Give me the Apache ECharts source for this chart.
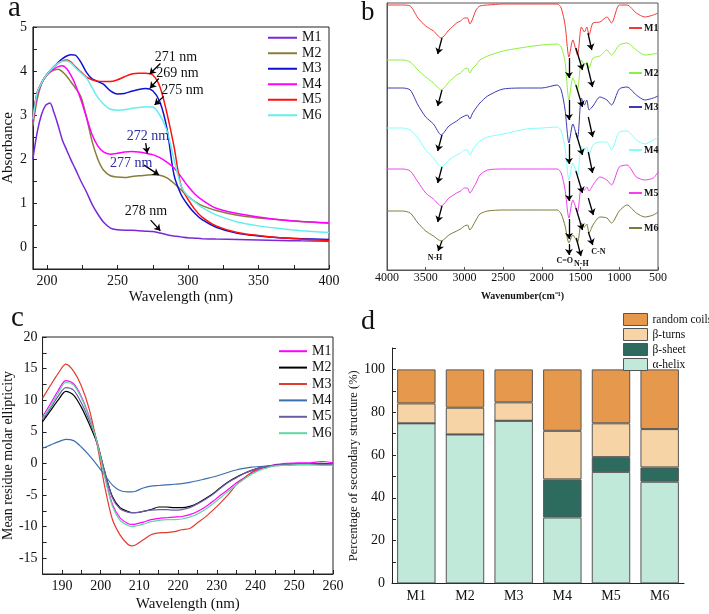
<!DOCTYPE html>
<html><head><meta charset="utf-8">
<script src="https://cdn.jsdelivr.net/npm/echarts@6/dist/echarts.min.js"></script>
<style>html,body{margin:0;padding:0;background:#fff}#c{width:709px;height:614px}</style>
</head><body><div id="c"></div><script>
const SERIF = 'Liberation Serif, "Times New Roman", serif';

// ---------- Panel a: UV absorbance ----------
const A_WL = [190,193,196,199,202,205,208,211,214,217,220,224,228,232,236,240,245,250,255,260,265,270,275,280,285,290,295,300,305,310,320,335,350,365,380,400];
const A_M1 = [2.0,2.6,3.0,3.22,3.27,3.05,2.75,2.42,2.2,1.98,1.78,1.5,1.25,0.97,0.75,0.57,0.43,0.39,0.38,0.38,0.37,0.36,0.35,0.32,0.28,0.25,0.23,0.21,0.2,0.19,0.18,0.17,0.16,0.15,0.14,0.13];
const A_M2 = [2.75,3.35,3.7,3.87,3.97,4.02,4.04,3.98,3.88,3.75,3.62,3.42,2.95,2.4,2.0,1.75,1.62,1.59,1.58,1.6,1.62,1.63,1.64,1.63,1.57,1.45,1.3,1.15,1.03,0.94,0.83,0.72,0.66,0.62,0.58,0.54];
const A_M3 = [2.9,3.5,3.72,3.88,4.0,4.1,4.2,4.28,4.34,4.37,4.36,4.2,3.97,3.82,3.76,3.7,3.55,3.48,3.49,3.54,3.58,3.6,3.55,3.3,2.7,1.65,1.2,0.95,0.76,0.62,0.45,0.31,0.25,0.21,0.19,0.17];
const A_M4 = [2.85,3.45,3.72,3.88,3.98,4.05,4.1,4.12,4.05,3.9,3.7,3.35,2.95,2.55,2.3,2.16,2.11,2.13,2.16,2.17,2.16,2.13,2.1,2.03,1.93,1.8,1.6,1.38,1.2,1.07,0.88,0.76,0.68,0.62,0.58,0.55];
const A_M5 = [2.9,3.5,3.72,3.88,4.0,4.1,4.18,4.23,4.25,4.2,4.1,3.98,3.86,3.8,3.77,3.76,3.76,3.8,3.87,3.93,3.95,3.95,3.91,3.65,3.05,2.3,1.4,1.08,0.85,0.68,0.48,0.33,0.26,0.21,0.18,0.15];
const A_M6 = [2.9,3.5,3.72,3.88,4.0,4.1,4.18,4.22,4.23,4.18,4.08,3.96,3.84,3.62,3.4,3.25,3.13,3.11,3.12,3.15,3.17,3.19,3.18,3.0,2.65,2.0,1.4,1.15,1.02,0.9,0.73,0.57,0.48,0.42,0.37,0.33];
const A_X_LABELS = [200,250,300,350,400];
const A_X_TICKS = [200,225,250,275,300,325,350,375,400];
const A_Y_LABELS = [0,1,2,3,4,5];
const A_Y_TICKS = [0,0.5,1,1.5,2,2.5,3,3.5,4,4.5,5];
const A_ARROWS = [[[280.4,4.17],[272.8,3.93]],[[279.3,3.83],[273,3.61]],[[282.7,3.42],[276.3,3.23]],[[270,2.36],[271.1,2.13]],[[268.8,1.86],[279.3,1.64]],[[273.5,0.61],[280.4,0.37]]];
const A_NOTES = [['271 nm',291.4,4.3,'#111'],['269 nm',292.5,3.95,'#111'],['275 nm',296,3.57,'#111'],['272 nm',271.6,2.52,'#2b2ba0'],['277 nm',259.7,1.91,'#2b2ba0'],['278 nm',270.2,0.8,'#111']];

// ---------- Panel b: FTIR ----------
const B_WN = [4000,3800,3700,3600,3500,3400,3300,3200,3100,3050,3000,2960,2930,2900,2850,2800,2700,2500,2200,2000,1800,1750,1700,1650,1600,1540,1490,1450,1420,1390,1340,1250,1160,1100,1000,900,780,670,560,500];
const B_M1 = [265,265,264,252,244,239,232,240,247,249,252,252,246,250,260,264,265,266,266,266,266,262,245,213,230,215,243,238,243,235,247,248,253,247,265,265,257,253,255,257];
const B_M2 = [210,210,208,200,193,187,180,188,195,197,201,202,197,201,205,210,214,219,223,225,226,223,208,170,192,180,210,205,208,202,212,214,220,215,225,227,220,215,216,217];
const B_M3 = [182,182,180,165,153,146,135,144,149,152,154,155,151,156,162,167,174,181,182,182,185,180,160,127,146,132,172,165,170,160,164,173,170,165,181,183,175,170,172,174];
const B_M4 = [142,142,140,132,120,112,103,110,115,117,120,120,115,119,125,129,133,136,141,142,143,139,122,90,107,95,124,119,123,115,125,128,128,120,138,139,130,126,130,133];
const B_M5 = [101,101,99,88,77,71,64,72,77,79,82,82,77,80,87,95,100,101,101,101,101,97,80,52,70,58,83,80,83,79,85,93,90,85,103,105,93,90,92,98];
const B_M6 = [59,59,57,47,39,34,29,35,39,41,44,45,40,43,50,56,59,60,60,60,60,56,44,27,35,28,47,43,46,37,45,53,52,47,59,65,57,53,55,58];
const B_ARROWS = [
  [[3290,232],[3345,216]],[[3290,180],[3345,164]],[[3290,135],[3345,119]],[[3290,103],[3345,87]],[[3290,64],[3345,48]],[[3290,29],[3340,19]],
  [[1650,212],[1650,192]],[[1650,170],[1650,150]],[[1650,126],[1650,106]],[[1650,89],[1650,69]],[[1650,51],[1650,31]],[[1650,26],[1650,15]],
  [[1560,222],[1475,200]],[[1560,185],[1475,163]],[[1560,137],[1475,115]],[[1560,99],[1475,77]],[[1560,62],[1475,40]],[[1555,32],[1495,14]],
  [[1405,237],[1355,220]],[[1420,207],[1345,183]],[[1400,153],[1343,133]],[[1400,118],[1345,97]],[[1400,72],[1335,55]],[[1400,38],[1343,25]]
];
const B_NOTES = [['N-H',3380,12],['C=O',1705,9],['N-H',1490,6],['C-N',1271,18]];
const B_LEGEND_TOPS = [23,68,102,145,188,223];

// ---------- Panel c: CD ----------
const C_WL = [185,187,189,191,193,195,197,199,201,203,205,207,208,209,211,213,215,217,219,221,223,225,227,229,231,233,235,237,239,241,243,245,248,251,254,257,260];
const C_M1 = [7.4,9.4,11.5,13.1,12.6,10.6,7.5,3.6,-1.8,-6.4,-8.6,-9.5,-9.65,-9.6,-9.3,-8.9,-8.7,-8.6,-8.5,-8.4,-8.1,-7.6,-6.9,-6.0,-5.0,-4.1,-3.1,-2.3,-1.5,-0.9,-0.5,-0.2,0,0.1,0.1,0.3,0.1];
const C_M2 = [6.6,8.3,10.0,11.4,10.8,8.9,6.3,3.3,-1.2,-5.2,-7.0,-7.6,-7.8,-7.8,-7.6,-7.3,-6.9,-6.9,-7.0,-7.0,-6.8,-6.3,-5.6,-4.8,-3.8,-2.9,-2.2,-1.6,-1.1,-0.7,-0.5,-0.3,-0.2,-0.1,-0.1,0,-0.1];
const C_M3 = [10.3,12.3,14.2,15.7,14.6,12.3,8.7,3.3,-3.5,-8.8,-11.3,-12.8,-13.05,-12.9,-12.1,-11.3,-11.0,-10.95,-10.8,-10.5,-10.3,-9.4,-8.5,-7.4,-6.2,-4.9,-3.4,-2.4,-1.4,-0.8,-0.5,-0.35,-0.3,-0.2,-0.2,-0.2,-0.3];
const C_M4 = [2.4,2.9,3.4,3.8,3.6,2.6,1.3,-0.2,-1.8,-3.4,-4.3,-4.5,-4.5,-4.4,-3.9,-3.6,-3.5,-3.4,-3.3,-3.2,-3.0,-2.75,-2.45,-2.15,-1.8,-1.4,-1.05,-0.8,-0.6,-0.5,-0.4,-0.3,-0.2,-0.1,-0.1,-0.1,-0.1];
const C_M5 = [6.9,8.7,10.6,12.0,11.6,9.6,6.9,3.6,-1.2,-5.4,-7.2,-7.7,-7.8,-7.8,-7.6,-7.4,-7.3,-7.3,-7.4,-7.3,-7.0,-6.4,-5.7,-4.9,-3.9,-3.0,-2.3,-1.6,-1.1,-0.7,-0.5,-0.3,-0.2,-0.1,-0.1,-0.1,-0.2];
const C_M6 = [7.1,9.0,11.1,12.8,12.4,10.4,7.4,3.5,-2.0,-6.7,-9.0,-9.8,-10.0,-9.9,-9.6,-9.2,-9.0,-8.9,-8.9,-8.8,-8.5,-8.0,-7.3,-6.4,-5.4,-4.4,-3.4,-2.5,-1.7,-1.1,-0.7,-0.4,-0.3,-0.2,-0.2,-0.3,-0.3];
const C_X_LABELS = [190,200,210,220,230,240,250,260];
const C_X_TICKS = [190,195,200,205,210,215,220,225,230,235,240,245,250,255,260];
const C_Y_LABELS = [-15,-10,-5,0,5,10,15,20];
const C_Y_TICKS = [-15,-12.5,-10,-7.5,-5,-2.5,0,2.5,5,7.5,10,12.5,15,17.5,20];

// ---------- Panel d: secondary structure ----------
const D_CATS = ['M1','M2','M3','M4','M5','M6'];
const D_HELIX = [74.8,69.6,76.0,30.8,52.1,47.5];
const D_SHEET = [0,0,0,17.8,6.9,6.7];
const D_TURNS = [9.3,12.5,8.6,22.7,15.8,17.9];
const D_COILS = [15.9,17.9,15.4,28.7,25.2,27.9];
const D_Y_LABELS = [0,20,40,60,80,100];
const D_Y_TICKS = [0,10,20,30,40,50,60,70,80,90,100,110];

const NAMES = ['M1','M2','M3','M4','M5','M6'];
const A_COLORS = ['#7a28d8','#8a7d3a','#1010d0','#ff00ff','#ff1010','#66eeee'];
const B_COLORS = ['#f03a3a','#8cf040','#3a3ab4','#80ffff','#f040f0','#7d7a3a'];
const C_COLORS = ['#ff00ff','#000000','#e03c31','#3d6fae','#6b5ca5','#61d6a0'];
const D_COLORS = {helix:'#c0e9da', sheet:'#2e6b5f', turns:'#f7d4a6', coils:'#e6994c'};

const zip = (xs, ys) => xs.map((x, i) => [x, ys[i]]);
const strip = n => n.slice(2);
const AX = '#222';

const A_SER = [A_M1,A_M2,A_M3,A_M4,A_M5,A_M6];
const B_SER = [B_M1,B_M2,B_M3,B_M4,B_M5,B_M6];
const C_SER = [C_M1,C_M2,C_M3,C_M4,C_M5,C_M6];

const series = [];
A_SER.forEach((d, i) => {
  const s = {type:'line', name:'a-'+NAMES[i], xAxisIndex:0, yAxisIndex:0, data:zip(A_WL,d), smooth:0.3,
    symbol:'none', lineStyle:{width:1.5, color:A_COLORS[i]}, itemStyle:{color:A_COLORS[i]}, z: 2};
  if (i === 0) {
    s.markLine = {silent:true, animation:false, symbol:['none','arrow'], symbolSize:6,
      lineStyle:{color:'#000', type:'solid', width:1.3}, label:{show:false},
      data: A_ARROWS.map(a => [{coord:a[0]},{coord:a[1]}])};
    s.markPoint = {silent:true, animation:false, symbol:'rect', symbolSize:1, itemStyle:{color:'rgba(0,0,0,0)'},
      data: A_NOTES.map(n => ({name:n[0], coord:[n[1],n[2]], label:{color:n[3]}})),
      label:{show:true, position:'inside', formatter:'{b}', fontSize:14, fontFamily:SERIF}};
  }
  series.push(s);
});
B_SER.forEach((d, i) => {
  const s = {type:'line', name:'b-'+NAMES[i], xAxisIndex:1, yAxisIndex:1, data:zip(B_WN,d), smooth:0.25,
    symbol:'none', lineStyle:{width:1, color:B_COLORS[i]}, itemStyle:{color:B_COLORS[i]}};
  if (i === 0) {
    s.markLine = {silent:true, animation:false, symbol:['none','arrow'], symbolSize:6,
      lineStyle:{color:'#000', type:'solid', width:1.3}, label:{show:false},
      data: B_ARROWS.map(a => [{coord:a[0]},{coord:a[1]}])};
    s.markPoint = {silent:true, animation:false, symbol:'rect', symbolSize:1, itemStyle:{color:'rgba(0,0,0,0)'},
      data: B_NOTES.map(n => ({name:n[0], coord:[n[1],n[2]]})),
      label:{show:true, position:'inside', formatter:'{b}', fontSize:8, fontWeight:'bold', color:'#111', fontFamily:SERIF}};
  }
  series.push(s);
});
C_SER.forEach((d, i) => {
  series.push({type:'line', name:'c-'+NAMES[i], xAxisIndex:2, yAxisIndex:2, data:zip(C_WL,d), smooth:0.3,
    symbol:'none', lineStyle:{width:1.2, color:C_COLORS[i]}, itemStyle:{color:C_COLORS[i]}});
});
const barBase = {type:'bar', stack:'tot', xAxisIndex:3, yAxisIndex:3, barWidth:'79%'};
series.push(Object.assign({}, barBase, {name:'α-helix', data:D_HELIX, itemStyle:{color:D_COLORS.helix, borderColor:'#555', borderWidth:1}}));
series.push(Object.assign({}, barBase, {name:'β-sheet', data:D_SHEET, itemStyle:{color:D_COLORS.sheet, borderColor:'#555', borderWidth:1}}));
series.push(Object.assign({}, barBase, {name:'β-turns', data:D_TURNS, itemStyle:{color:D_COLORS.turns, borderColor:'#555', borderWidth:1}}));
series.push(Object.assign({}, barBase, {name:'random coils', data:D_COILS, itemStyle:{color:D_COLORS.coils, borderColor:'#555', borderWidth:1}}));

const legends = [
  {data:NAMES.map(n=>'a-'+n), orient:'vertical', left:268, top:30, padding:0, icon:'rect', itemWidth:29, itemHeight:2, itemGap:0,
   formatter:strip, selectedMode:false, textStyle:{fontSize:14, lineHeight:15.5, fontFamily:SERIF, color:'#111'}},
  {data:NAMES.map(n=>'c-'+n), orient:'vertical', left:279, top:343, padding:0, icon:'rect', itemWidth:28, itemHeight:2, itemGap:0,
   formatter:strip, selectedMode:false, textStyle:{fontSize:14, lineHeight:16.4, fontFamily:SERIF, color:'#111'}},
  {data:['random coils','β-turns','β-sheet','α-helix'], orient:'vertical', left:623, top:313, padding:0, itemWidth:24, itemHeight:12, itemGap:2,
   icon:'rect', itemStyle:{borderColor:'#555', borderWidth:1}, selectedMode:false,
   textStyle:{fontSize:11.5, fontFamily:SERIF, color:'#111'}}
];
NAMES.forEach((n, i) => legends.push({data:['b-'+n], left:629, top:B_LEGEND_TOPS[i], padding:0, icon:'rect', itemWidth:13, itemHeight:2,
  formatter:strip, selectedMode:false, textStyle:{fontSize:10, fontWeight:'bold', fontFamily:SERIF, color:'#111', padding:[0,0,0,-3]}}));

const lbl = (size, extra) => Object.assign({color:'#111', fontSize:size, fontFamily:SERIF}, extra||{});
const gridBox = {show:true, borderColor:AX, borderWidth:1, backgroundColor:'rgba(0,0,0,0)'};

const option = {
  animation:false,
  backgroundColor:'#fff',
  grid:[
    Object.assign({left:27, top:27, width:302, height:242}, gridBox),
    Object.assign({left:387, top:3, width:271, height:267}, gridBox, {borderColor:'#555'}),
    Object.assign({left:38, top:337, width:295, height:237}, gridBox),
    {left:392, top:348, width:292, height:235.4}
  ],
  xAxis:[
    {gridIndex:0, type:'value', min:190, max:400, splitLine:{show:false},
     axisLine:{onZero:false, lineStyle:{color:AX}}, axisTick:{inside:true, length:4, customValues:A_X_TICKS, lineStyle:{color:AX}},
     axisLabel:lbl(14,{customValues:A_X_LABELS, margin:5}),
     name:'Wavelength (nm)', nameLocation:'middle', nameGap:21, nameTextStyle:lbl(15)},
    {gridIndex:1, type:'value', inverse:true, min:500, max:4000, interval:500, splitLine:{show:false},
     axisLine:{onZero:false, lineStyle:{color:'#555'}}, axisTick:{inside:true, length:3, lineStyle:{color:'#555'}},
     axisLabel:lbl(12,{margin:2, formatter: v => String(v)}),
     name:'Wavenumber(cm⁻¹)', nameLocation:'middle', nameGap:21, nameTextStyle:lbl(10,{fontWeight:'bold'})},
    {gridIndex:2, type:'value', min:185, max:260, splitLine:{show:false},
     axisLine:{onZero:false, lineStyle:{color:AX}}, axisTick:{inside:true, length:4, customValues:C_X_TICKS, lineStyle:{color:AX}},
     axisLabel:lbl(14,{customValues:C_X_LABELS, margin:5}),
     name:'Wavelength (nm)', nameLocation:'middle', nameGap:23, nameTextStyle:lbl(15)},
    {gridIndex:3, type:'category', data:D_CATS, axisLine:{lineStyle:{color:AX}}, axisTick:{show:false},
     axisLabel:lbl(14,{margin:6})}
  ],
  yAxis:[
    {gridIndex:0, type:'value', min:-0.5, max:5, splitLine:{show:false},
     axisLine:{show:true, onZero:false, lineStyle:{color:AX}}, axisTick:{show:true, inside:true, length:4, customValues:A_Y_TICKS, lineStyle:{color:AX}},
     axisLabel:lbl(14,{customValues:A_Y_LABELS, margin:6}),
     name:'Absorbance', nameLocation:'middle', nameRotate:90, nameGap:13, nameTextStyle:lbl(15)},
    {gridIndex:1, type:'value', min:0, max:267, splitLine:{show:false},
     axisLine:{show:true, onZero:false, lineStyle:{color:'#555'}}, axisTick:{show:false}, axisLabel:{show:false}},
    {gridIndex:2, type:'value', min:-17.5, max:20, splitLine:{show:false},
     axisLine:{show:true, onZero:false, lineStyle:{color:AX}}, axisTick:{show:true, inside:true, length:4, customValues:C_Y_TICKS, lineStyle:{color:AX}},
     axisLabel:lbl(14,{customValues:C_Y_LABELS, margin:5}),
     name:'Mean residue molar ellipticity', nameLocation:'middle', nameRotate:90, nameGap:24, nameTextStyle:lbl(14)},
    {gridIndex:3, type:'value', min:0, max:110, splitLine:{show:false},
     axisLine:{show:true, onZero:false, lineStyle:{color:AX}}, axisTick:{show:true, inside:true, length:4, customValues:D_Y_TICKS, lineStyle:{color:AX}},
     axisLabel:lbl(14,{customValues:D_Y_LABELS, margin:7}),
     name:'Percentage of secondary structure (%)', nameLocation:'middle', nameRotate:90, nameGap:26, nameTextStyle:lbl(12.5)}
  ],
  legend: legends,
  graphic:[
    {type:'text', style:{text:'a', x:8, y:8, font:'29px '+SERIF, fill:'#111', verticalAlign:'middle'}},
    {type:'text', style:{text:'b', x:361, y:13, font:'27px '+SERIF, fill:'#111', verticalAlign:'middle'}},
    {type:'text', style:{text:'c', x:11, y:318, font:'29px '+SERIF, fill:'#111', verticalAlign:'middle'}},
    {type:'text', style:{text:'d', x:361, y:322, font:'28px '+SERIF, fill:'#111', verticalAlign:'middle'}}
  ],
  series: series
};
const chart = echarts.init(document.getElementById('c'), null, {renderer:'canvas'});
chart.setOption(option);
</script></body></html>
